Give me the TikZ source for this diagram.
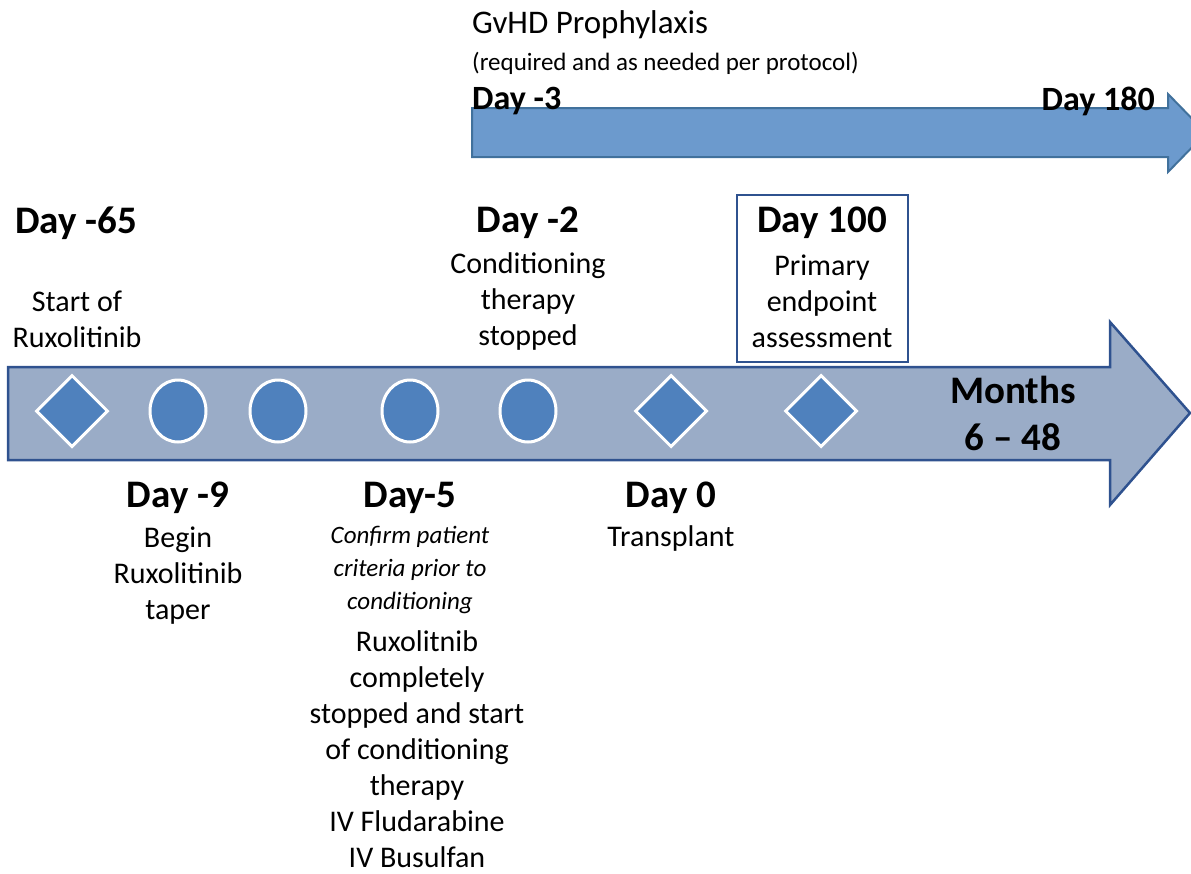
\documentclass[tikz,border=0pt]{standalone}
\usepackage{fontspec}
\setmainfont{Carlito}
\usetikzlibrary{shapes.geometric}

\definecolor{barfill}{RGB}{154,172,199}
\definecolor{barline}{RGB}{47,82,143}
\definecolor{topfill}{RGB}{108,154,205}
\definecolor{topline}{RGB}{65,113,156}
\definecolor{markfill}{RGB}{79,129,189}

\tikzset{
  daylbl/.style={inner sep=0pt, font=\fontsize{39}{44}\selectfont\bfseries},
  toplbl/.style={inner sep=0pt, font=\fontsize{34}{40}\selectfont\bfseries},
  notelbl/.style={inner sep=0pt, align=center, font=\fontsize{30}{36}\selectfont},
  itallbl/.style={inner sep=0pt, align=center, font=\fontsize{25}{33}\selectfont\itshape},
  milestone/.style={diamond, fill=markfill, draw=white, line width=3pt,
    minimum width=72pt, minimum height=72pt, inner sep=0pt},
  visit/.style={ellipse, fill=markfill, draw=white, line width=3pt,
    minimum width=56pt, minimum height=62pt, inner sep=0pt}
}

\begin{document}
\begin{tikzpicture}[x=1pt, y=-1pt]
  \useasboundingbox (0,0) rectangle (1191,873);
  \clip (0,0) rectangle (1191,873);

  % GvHD prophylaxis arrow
  \draw[line width=2pt, draw=topline, fill=topfill]
    (472,108) -- (1168,108) -- (1168,94) -- (1206,133) -- (1168,172) -- (1168,157) -- (472,157) -- cycle;
  \node[anchor=west, inner sep=0pt, font=\fontsize{33}{38}\selectfont] (gvhd) at (472,25) {GvHD Prophylaxis};
  \node[anchor=west, inner sep=0pt, font=\fontsize{25}{30}\selectfont] (gvhdnote) at (472,63) {(required and as needed per protocol)};
  \node[toplbl, anchor=west] (dm3) at (472,101) {Day -3};
  \node[toplbl, anchor=east] (d180) at (1155,101) {Day 180};

  % main timeline arrow
  \draw[line width=2.5pt, draw=barline, fill=barfill]
    (8,367) -- (1110,367) -- (1110,322) -- (1190,413) -- (1110,505) -- (1110,460) -- (8,460) -- cycle;

  % markers
  \node[milestone] (m65) at (72,411) {};
  \node[visit] (m9) at (178,411) {};
  \node[visit] (m7) at (278,411) {};
  \node[visit] (m5) at (410,411) {};
  \node[visit] (m2) at (528,411) {};
  \node[milestone] (m0) at (671,411) {};
  \node[milestone] (m100) at (821,411) {};

  % labels above
  \node[daylbl] (d65) at (76,223) {Day -65};
  \node[notelbl] (d65txt) at (77,319) {Start of\\Ruxolitinib};
  \node[daylbl] (d2) at (528,223) {Day -2};
  \node[notelbl] (d2txt) at (528,301) {Conditioning\\therapy\\stopped};
  \node[draw=barline, line width=2pt, minimum width=171pt, minimum height=167pt] (d100box) at (822.5,278.5) {};
  \node[daylbl] (d100) at (822,223) {Day 100};
  \node[notelbl] (d100txt) at (822,301) {Primary\\endpoint\\assessment};
  \node[daylbl, align=center, font=\fontsize{39}{47}\selectfont\bfseries] (months) at (1013,413) {Months\\6 -- 48};

  % labels below
  \node[daylbl] (d9) at (178,498) {Day -9};
  \node[notelbl] (d9txt) at (178,576) {Begin\\Ruxolitinib\\taper};
  \node[daylbl] (d5) at (410,498) {Day-5};
  \node[itallbl] (d5crit) at (410,570) {Confirm patient\\criteria prior to\\conditioning};
  \node[notelbl] (d5txt) at (417,749) {Ruxolitnib\\completely\\stopped and start\\of conditioning\\therapy\\IV Fludarabine\\IV Busulfan};
  \node[daylbl] (d0) at (671,498) {Day 0};
  \node[notelbl] (d0txt) at (671,538) {Transplant};
\end{tikzpicture}
\end{document}
